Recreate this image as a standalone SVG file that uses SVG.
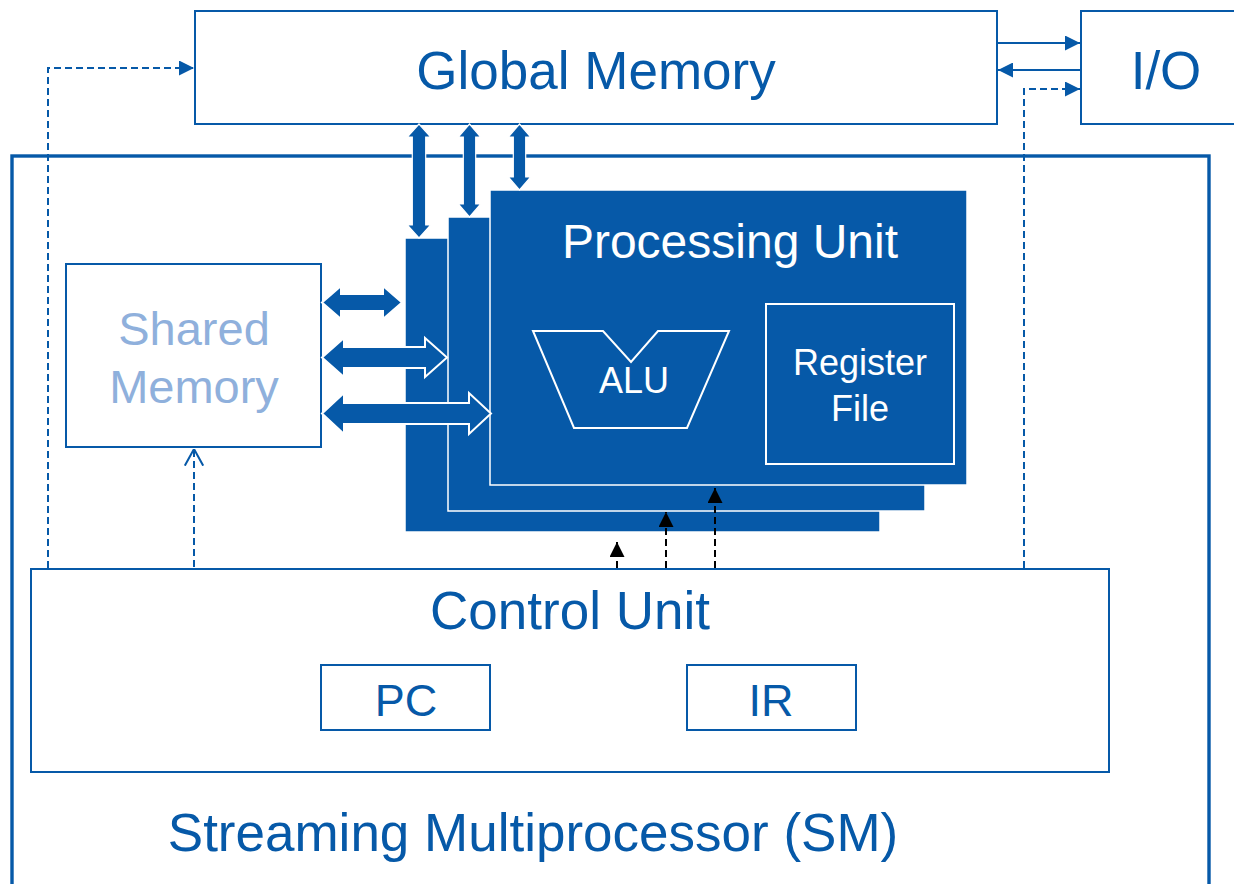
<svg xmlns="http://www.w3.org/2000/svg" width="1234" height="884" viewBox="0 0 1234 884">
<defs>
<style>
.box{fill:#fff;stroke:#0659A8;stroke-width:2}
.t{font-family:"Liberation Sans",Arial,sans-serif;fill:#0659A8;text-anchor:middle}
.w{fill:#fff}
.lb{fill:#8FB0DC}
.pu{fill:#0659A8;stroke:#fff;stroke-width:1.5}
.blk{fill:#0659A8;stroke:#fff;stroke-width:1.2}
.blk2{fill:#0659A8;stroke:#fff;stroke-width:2}
.dash{fill:none;stroke:#0659A8;stroke-width:2;stroke-dasharray:7 4}
.kdash{fill:none;stroke:#000;stroke-width:2;stroke-dasharray:7 4}
.solid{fill:none;stroke:#0659A8;stroke-width:2}
</style>
<marker id="ab" viewBox="0 0 10 10" refX="10" refY="5" markerWidth="15" markerHeight="15" markerUnits="userSpaceOnUse" orient="auto"><path d="M0,0 L10,5 L0,10 z" fill="#0659A8"/></marker>
<marker id="ak" viewBox="0 0 10 10" refX="10" refY="5" markerWidth="15" markerHeight="15" markerUnits="userSpaceOnUse" orient="auto"><path d="M0,0 L10,5 L0,10 z" fill="#000"/></marker>
<marker id="av" viewBox="0 0 10 12" refX="10" refY="6" markerWidth="17" markerHeight="20" markerUnits="userSpaceOnUse" orient="auto"><path d="M0,0.5 L10,6 L0,11.5" fill="none" stroke="#0659A8" stroke-width="1.2"/></marker>
</defs>
<rect width="1234" height="884" fill="#fff"/>

<g id="sm">
<rect x="12" y="156" width="1197" height="740" fill="none" stroke="#0659A8" stroke-width="3.4"/>
<text class="t" x="533" y="851" font-size="53">Streaming Multiprocessor (SM)</text>
</g>

<g id="global-memory">
<rect class="box" x="195" y="11" width="802" height="113"/>
<text class="t" x="596" y="89" font-size="53">Global Memory</text>
</g>

<g id="io">
<rect class="box" x="1081" y="11" width="170" height="113"/>
<text class="t" x="1166" y="89" font-size="53">I/O</text>
</g>

<g id="shared-memory">
<rect class="box" x="66" y="264" width="255" height="183"/>
<text class="t lb" x="194" y="345" font-size="47">Shared</text>
<text class="t lb" x="194" y="403" font-size="47">Memory</text>
</g>

<g id="processing-units">
<rect class="pu" x="405" y="238" width="475" height="294"/>
<rect class="pu" x="448" y="217" width="477" height="294"/>
<rect class="pu" x="490" y="190" width="477" height="295"/>
<text class="t w" x="730" y="258" font-size="48">Processing Unit</text>
</g>

<g id="alu">
<polygon points="533,331 603,331 631,362 658,331 729,331 687,428 574,428" fill="none" stroke="#fff" stroke-width="2"/>
<text class="t w" x="634" y="393" font-size="36">ALU</text>
</g>

<g id="register-file">
<rect x="766" y="304" width="188" height="160" fill="none" stroke="#fff" stroke-width="2"/>
<text class="t w" x="860" y="375" font-size="36">Register</text>
<text class="t w" x="860" y="421" font-size="36">File</text>
</g>

<g id="control-unit">
<rect class="box" x="31" y="569" width="1078" height="203"/>
<text class="t" x="570" y="629" font-size="53">Control Unit</text>
</g>

<g id="pc">
<rect class="box" x="321" y="665" width="169" height="65"/>
<text class="t" x="406" y="716" font-size="45">PC</text>
</g>

<g id="ir">
<rect class="box" x="687" y="665" width="169" height="65"/>
<text class="t" x="771" y="716" font-size="45">IR</text>
</g>

<g id="connectors">
<polygon class="blk" points="419,124 430.7,137 425.7,137 425.7,225 430.7,225 419,238 407.3,225 412.3,225 412.3,137 407.3,137"/>
<polygon class="blk" points="469.5,124 480.7,137 475.7,137 475.7,204 480.7,204 469.5,217 458.3,204 463.3,204 463.3,137 458.3,137"/>
<polygon class="blk" points="519.5,124 530.7,137 525.7,137 525.7,177 530.7,177 519.5,190 508.3,177 513.3,177 513.3,137 508.3,137"/>
<polygon class="blk2" points="322,302.5 341,286 341,294 383,294 383,286 402,302.5 383,319 383,311 341,311 341,319"/>
<polygon class="blk2" points="322,357.5 344,338 344,347 425,347 425,338 447,357.5 425,377 425,368 344,368 344,377"/>
<polygon class="blk2" points="322,413.5 344,393 344,403 469,403 469,393 491,413.5 469,434 469,424 344,424 344,434"/>
<line class="solid" x1="997" y1="43" x2="1080" y2="43" marker-end="url(#ab)"/>
<line class="solid" x1="1081" y1="70" x2="998" y2="70" marker-end="url(#ab)"/>
<polyline class="dash" points="48,568 48,68 194,68" marker-end="url(#ab)"/>
<polyline class="dash" points="1024,568 1024,89 1080,89" marker-end="url(#ab)"/>
<line class="dash" x1="194" y1="567" x2="194" y2="449" marker-end="url(#av)"/>
<line class="kdash" x1="617" y1="568" x2="617" y2="542" marker-end="url(#ak)"/>
<line class="kdash" x1="666" y1="568" x2="666" y2="512" marker-end="url(#ak)"/>
<line class="kdash" x1="715" y1="568" x2="715" y2="488" marker-end="url(#ak)"/>
</g>
</svg>
